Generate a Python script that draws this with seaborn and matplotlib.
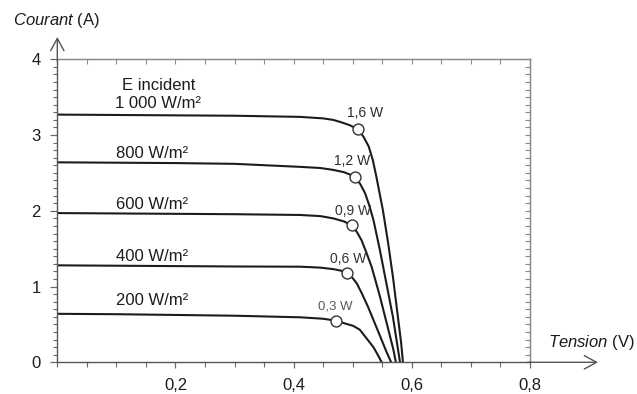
import matplotlib
matplotlib.use("Agg")
import matplotlib.pyplot as plt
from matplotlib.ticker import MultipleLocator, FixedLocator
import seaborn as sns
import pandas as pd

# ---------------- data ----------------
V_1000 = [0, 0.1, 0.2, 0.3, 0.41, 0.45, 0.467, 0.48, 0.495, 0.509, 0.518, 0.527, 0.534, 0.540, 0.551, 0.560, 0.568, 0.575, 0.582, 0.585]
I_1000 = [3.27, 3.265, 3.26, 3.255, 3.24, 3.22, 3.20, 3.17, 3.13, 3.076, 2.98, 2.85, 2.67, 2.45, 2.01, 1.57, 1.13, 0.69, 0.25, 0]

V_800 = [0, 0.1, 0.2, 0.3, 0.411, 0.445, 0.467, 0.485, 0.495, 0.504, 0.513, 0.521, 0.528, 0.535, 0.546, 0.557, 0.568, 0.575, 0.580]
I_800 = [2.64, 2.635, 2.63, 2.62, 2.58, 2.565, 2.54, 2.51, 2.48, 2.44, 2.35, 2.23, 2.07, 1.88, 1.48, 1.04, 0.60, 0.25, 0]

V_600 = [0, 0.1, 0.2, 0.3, 0.411, 0.445, 0.467, 0.485, 0.498, 0.507, 0.515, 0.523, 0.532, 0.546, 0.559, 0.569, 0.573]
I_600 = [1.97, 1.965, 1.96, 1.955, 1.945, 1.93, 1.90, 1.86, 1.81, 1.72, 1.61, 1.45, 1.26, 0.87, 0.47, 0.16, 0]

V_400 = [0, 0.1, 0.2, 0.3, 0.411, 0.445, 0.467, 0.480, 0.490, 0.499, 0.507, 0.516, 0.526, 0.545, 0.557, 0.565]
I_400 = [1.28, 1.275, 1.27, 1.265, 1.262, 1.25, 1.23, 1.21, 1.18, 1.12, 1.04, 0.90, 0.73, 0.37, 0.14, 0]

V_200 = [0, 0.1, 0.2, 0.3, 0.411, 0.45, 0.471, 0.488, 0.501, 0.512, 0.524, 0.535, 0.543, 0.549]
I_200 = [0.64, 0.635, 0.625, 0.615, 0.594, 0.575, 0.55, 0.51, 0.48, 0.43, 0.31, 0.20, 0.09, 0]

curve_labels = ["1 000 W/m²", "800 W/m²", "600 W/m²", "400 W/m²", "200 W/m²"]

# maximum power points
mpp_V = [0.509, 0.504, 0.498, 0.490, 0.471]
mpp_I = [3.076, 2.44, 1.81, 1.18, 0.55]
mpp_labels = ["1,6 W", "1,2 W", "0,9 W", "0,6 W", "0,3 W"]

x_ticks = [0.2, 0.4, 0.6, 0.8]
x_ticklabels = ["0,2", "0,4", "0,6", "0,8"]
y_ticks = [0, 1, 2, 3, 4]
y_ticklabels = ["0", "1", "2", "3", "4"]

# ---------------- style ----------------
sns.set_style("white")
plt.rcParams["font.family"] = ["Liberation Sans", "DejaVu Sans"]
plt.rcParams["mathtext.fontset"] = "custom"
plt.rcParams["mathtext.rm"] = "Liberation Sans"
plt.rcParams["mathtext.it"] = "Liberation Sans:italic"

INK = "#1c1c1c"
FRAME = "#6a6a6a"
FRAME2 = "#8a8a8a"

W, H = 637, 394
fig = plt.figure(figsize=(W / 100, H / 100), dpi=100)
x0, x1, y0, y1 = 57.3, 530.0, 362.3, 59.3
ax = fig.add_axes([x0 / W, 1 - y0 / H, (x1 - x0) / W, (y0 - y1) / H])

frames = []
for V, I, lab in zip([V_1000, V_800, V_600, V_400, V_200],
                     [I_1000, I_800, I_600, I_400, I_200], curve_labels):
    frames.append(pd.DataFrame({"V": V, "I": I, "E": lab}))
df = pd.concat(frames, ignore_index=True)

sns.lineplot(data=df, x="V", y="I", units="E", estimator=None, sort=False,
             color=INK, lw=1.5, ax=ax, legend=False)

mpp = pd.DataFrame({"V": mpp_V, "I": mpp_I, "P": mpp_labels})
sns.scatterplot(data=mpp, x="V", y="I", s=62, color="white", edgecolor="#333333",
                linewidth=1.0, zorder=5, ax=ax, legend=False)

offsets = [(5, 12), (-2, 12), (1, 10), (1, 10), (0, 10)]
pcolors = ["#2a2a2a", "#2a2a2a", "#333333", "#333333", "#5a5a5a"]
for v, i, t, off, c in zip(mpp_V, mpp_I, mpp_labels, offsets, pcolors):
    ax.annotate(t, (v, i), xytext=off, textcoords="offset points",
                ha="center", va="center", fontsize=10 if t != "0,3 W" else 9.5,
                color=c)

# irradiance labels
ax.text(0.172, 3.66, "E incident", ha="center", va="center", fontsize=12, color=INK)
label_pos = [(0.170, 3.41), (0.160, 2.76), (0.160, 2.08), (0.160, 1.40), (0.160, 0.81)]
for (v, i), t in zip(label_pos, curve_labels):
    ax.text(v, i, t, ha="center", va="center", fontsize=12, color=INK)

ax.set_xlim(0, 0.8)
ax.set_ylim(0, 4)
ax.set_xlabel("")
ax.set_ylabel("")

ax.xaxis.set_major_locator(FixedLocator(x_ticks))
ax.set_xticklabels(x_ticklabels)
ax.xaxis.set_minor_locator(MultipleLocator(0.05))
ax.yaxis.set_major_locator(FixedLocator(y_ticks))
ax.set_yticklabels(y_ticklabels)
ax.yaxis.set_minor_locator(MultipleLocator(0.1))

ax.tick_params(axis="x", which="both", bottom=True, top=False)
ax.tick_params(axis="y", which="both", left=True, right=False)
ax.tick_params(axis="x", which="major", direction="out", length=4, width=0.9,
               color=FRAME, labelsize=12, labelcolor=INK, pad=7)
ax.tick_params(axis="x", which="minor", direction="out", length=3.5, width=0.8, color=FRAME)
ax.tick_params(axis="y", which="major", direction="out", length=5, width=0.9,
               color=FRAME, labelsize=12, labelcolor=INK, pad=7)
ax.tick_params(axis="y", which="minor", direction="out", length=3, width=0.8, color=FRAME)

for s in ["left", "bottom"]:
    ax.spines[s].set_color("#555555")
    ax.spines[s].set_linewidth(1.0)
for s in ["top", "right"]:
    ax.spines[s].set_color(FRAME2)
    ax.spines[s].set_linewidth(1.0)

# inward ticks on top and right frame
sx = ax.secondary_xaxis("top")
sx.xaxis.set_major_locator(MultipleLocator(0.05))
sx.tick_params(which="both", top=True, bottom=False, direction="in", length=3.5,
               width=0.8, color=FRAME2, labeltop=False, labelbottom=False)
sx.spines["top"].set_color(FRAME2)
sy = ax.secondary_yaxis("right")
sy.yaxis.set_major_locator(MultipleLocator(0.1))
sy.tick_params(which="both", right=True, left=False, direction="in", length=3.5,
               width=0.8, color=FRAME2, labelright=False, labelleft=False)
sy.spines["right"].set_color(FRAME2)

# axis arrows
arrow = dict(arrowstyle="->,head_length=0.55,head_width=0.3", color="#555555",
             lw=1.0, mutation_scale=16, shrinkA=0, shrinkB=0)
ax.annotate("", xy=((598 - x0) / (x1 - x0), 0), xytext=(0.995, 0),
            xycoords="axes fraction", arrowprops=arrow, annotation_clip=False)
ax.annotate("", xy=(0, (y0 - 37) / (y0 - y1)), xytext=(0, 0.995),
            xycoords="axes fraction", arrowprops=arrow, annotation_clip=False)

# axis titles
fig.text(13 / W, 1 - 20 / H, r"$\mathit{Courant}$ (A)", ha="left", va="center",
         fontsize=12, color=INK)
fig.text(635 / W, 1 - 342.5 / H, r"$\mathit{Tension}$ (V)", ha="right", va="center",
         fontsize=12, color=INK)

fig.savefig("out.png", dpi=100, facecolor="white")
